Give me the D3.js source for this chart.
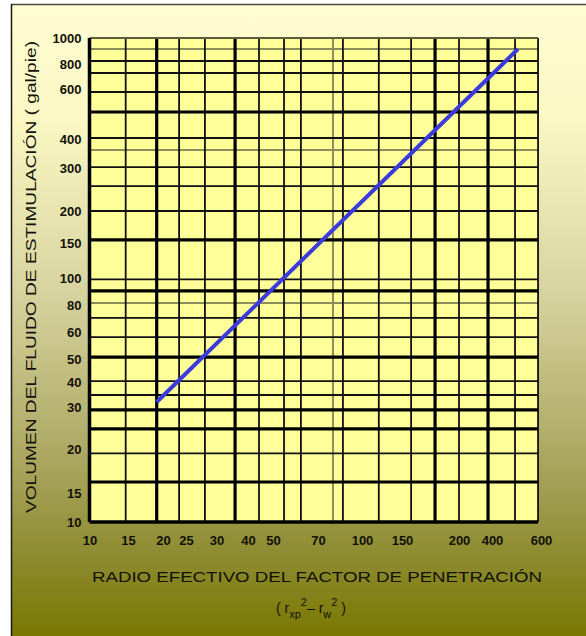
<!DOCTYPE html>
<html>
<head>
<meta charset="utf-8">
<script src="https://cdn.jsdelivr.net/npm/d3@7/dist/d3.min.js"></script>
<style>
  html, body { margin: 0; padding: 0; background: #ffffff; }
  svg { display: block; }
  text { font-family: "Liberation Sans", Arial, sans-serif; fill: #111108; }
</style>
</head>
<body>
<div id="chart"></div>
<script>
// ---- data ----
// x-axis tick labels (values) as printed on the chart
const xTicks = [10, 15, 20, 25, 30, 40, 50, 70, 100, 150, 200, 400, 600];
// y-axis tick labels
const yTicks = [10, 15, 20, 30, 40, 50, 60, 80, 100, 150, 200, 300, 400, 600, 800, 1000];
// vertical grid lines (x values), by weight
const xGridThick = [19.1, 35.9, 179, 376];
const xGridNormal = [14.7, 23.5, 28.1, 44.4, 54.9, 62.4, 87, 121, 158, 200, 494, 588];
const xGridFaint = [80.2];
// horizontal grid lines (y values), by weight
const yGridThick = [508, 155, 90.4, 50.7, 29.3, 24.8, 16.25];
const yGridNormal = [823, 728, 588, 404, 303, 258, 200, 99, 70.4, 58.1, 40.4, 34.8, 19.5];
const yGridFaint = [915, 362, 81.5];
// the stimulation-volume line (x: effective radius factor, y: gal/pie)
const lineX = [19.1, 506];
const lineY = [32, 915];

// ---- layout (pixel positions of the printed tick labels; the chart paper is non-uniform) ----
const W = 586, H = 636;
const xLabelPx = [89.5, 128, 163, 186, 216.5, 248, 273, 318, 362, 402, 459, 492, 541];
const yLabelPx = [522, 493, 449, 407, 382, 359, 332, 305, 278, 243, 211, 168, 139, 89, 64, 38];

const x = d3.scaleLinear().domain(xTicks).range(xLabelPx);
const y = d3.scaleLinear().domain(yTicks).range(yLabelPx);

const svg = d3.select("#chart").append("svg").attr("width", W).attr("height", H);

const defs = svg.append("defs");
const grad = defs.append("linearGradient").attr("id", "bg").attr("x1", 0).attr("y1", 0).attr("x2", 0).attr("y2", 1);
[[0, "#fffdd2"], [0.18, "#fbf8c4"], [0.45, "#d8d4a0"], [0.7, "#aeaa66"], [0.88, "#8c8a2e"], [1, "#7a7800"]]
  .forEach(([o, c]) => grad.append("stop").attr("offset", o).attr("stop-color", c));

// panel
svg.append("rect").attr("x", 11).attr("y", 4).attr("width", W - 11).attr("height", H - 4).attr("fill", "url(#bg)");
svg.append("line").attr("x1", 11).attr("x2", W).attr("y1", 4.5).attr("y2", 4.5).attr("stroke", "#4a4a40").attr("stroke-width", 1.5);
svg.append("line").attr("x1", 11.5).attr("x2", 11.5).attr("y1", 4).attr("y2", H).attr("stroke", "#1a1a10").attr("stroke-width", 1.5);

const x0 = x(10), x1 = x(588), yTop = y(1000), yBot = y(10);

// plot paper
svg.append("rect").attr("x", x0).attr("y", yTop).attr("width", x1 - x0).attr("height", yBot - yTop).attr("fill", "#ffff9a");

const g = svg.append("g");
function vLines(vals, color, w) {
  g.selectAll(null).data(vals).enter().append("line")
    .attr("x1", d => x(d)).attr("x2", d => x(d)).attr("y1", yTop).attr("y2", yBot)
    .attr("stroke", color).attr("stroke-width", w);
}
function hLines(vals, color, w) {
  g.selectAll(null).data(vals).enter().append("line")
    .attr("y1", d => y(d)).attr("y2", d => y(d)).attr("x1", x0).attr("x2", x1)
    .attr("stroke", color).attr("stroke-width", w);
}
vLines(xGridFaint, "#8e8c5c", 2);
hLines(yGridFaint, "#8e8c5c", 2);
vLines(xGridNormal, "#111", 1.8);
hLines(yGridNormal, "#111", 1.8);
vLines(xGridThick, "#000", 3.2);
hLines(yGridThick, "#000", 3.2);
// top border
hLines([1000], "#5e5d3c", 2);
// axes lines
vLines([10], "#000", 3.5);
hLines([10], "#000", 3.5);

// data line
const line = d3.line().x(d => x(d[0])).y(d => y(d[1]));
svg.append("path").datum(d3.zip(lineX, lineY)).attr("d", line)
  .attr("fill", "none").attr("stroke", "#3b3bdc").attr("stroke-width", 4).attr("stroke-linecap", "butt");

// axes labels
const ax = svg.append("g").attr("transform", `translate(0,${yBot})`)
  .call(d3.axisBottom(x).tickValues(xTicks).tickSize(0).tickPadding(14).tickFormat(d3.format("d")));
ax.select(".domain").remove();
ax.selectAll("text").style("font-size", "13px").style("font-weight", "bold")
  .style("font-family", "'Liberation Sans', Arial, sans-serif").attr("fill", "#23231a");

const ay = svg.append("g").attr("transform", `translate(${x0 - 1},0)`)
  .call(d3.axisLeft(y).tickValues(yTicks).tickSize(0).tickPadding(7).tickFormat(d3.format("d")));
ay.select(".domain").remove();
ay.selectAll("text").style("font-size", "13px").style("font-weight", "bold")
  .style("font-family", "'Liberation Sans', Arial, sans-serif").attr("fill", "#23231a");

// titles
svg.append("text").attr("x", 317).attr("y", 582).attr("text-anchor", "middle")
  .attr("textLength", 450).attr("lengthAdjust", "spacingAndGlyphs")
  .style("font-size", "15px").text("RADIO EFECTIVO DEL FACTOR DE PENETRACIÓN");

const sub = svg.append("text").attr("x", 311).attr("y", 613).attr("text-anchor", "middle").style("font-size", "14px");
sub.append("tspan").text("( r");
sub.append("tspan").attr("dy", 5).style("font-size", "11px").text("xp");
sub.append("tspan").attr("dy", -12).style("font-size", "11px").text("2");
sub.append("tspan").attr("dy", 7).text("– r");
sub.append("tspan").attr("dy", 5).style("font-size", "11px").text("w");
sub.append("tspan").attr("dy", -12).style("font-size", "11px").text("2");
sub.append("tspan").attr("dy", 7).text(" )");

svg.append("text").attr("transform", "translate(36,277) rotate(-90)").attr("text-anchor", "middle")
  .attr("textLength", 472).attr("lengthAdjust", "spacingAndGlyphs")
  .style("font-size", "14px").text("VOLUMEN DEL  FLUIDO DE ESTIMULACIÓN ( gal/pie)");
</script>
</body>
</html>
